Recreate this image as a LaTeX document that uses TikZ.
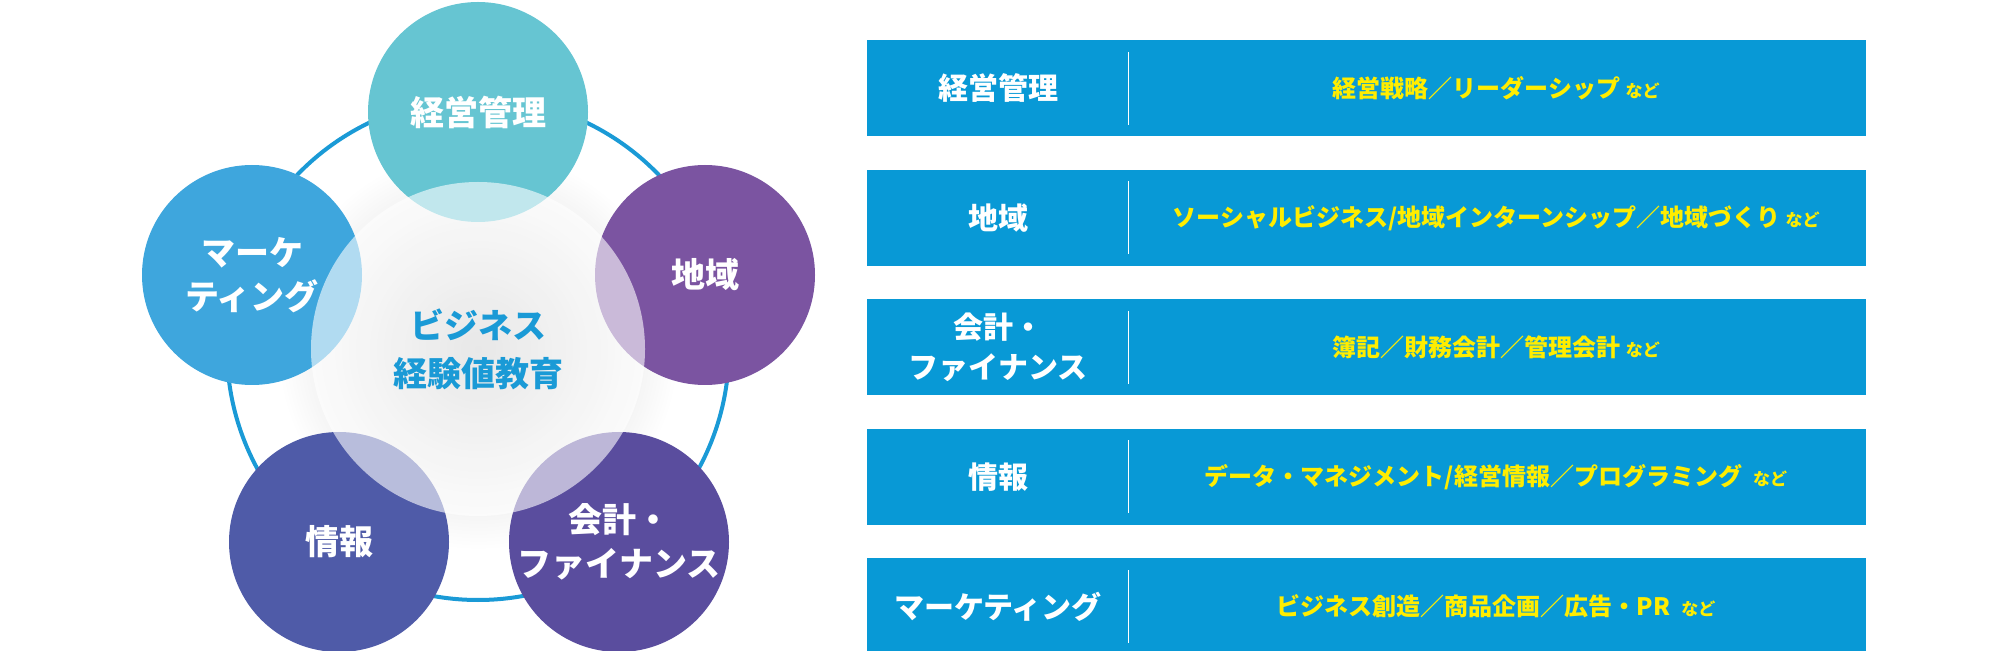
\documentclass[tikz,border=0pt]{standalone}
\usepackage{fontspec}
\setmainfont{Noto Sans CJK JP}
\definecolor{mgmtc}{HTML}{66C5D2}
\definecolor{mktc}{HTML}{3EA6DD}
\definecolor{areac}{HTML}{7B54A1}
\definecolor{infoc}{HTML}{4F5BA8}
\definecolor{accc}{HTML}{5A4D9E}
\definecolor{ringc}{HTML}{1A9AD6}
\definecolor{barc}{HTML}{0899D6}
\definecolor{gold}{HTML}{FFED00}
\newcommand\hsl{/}
\newcommand\nado{{\fontsize{8.5}{10}\selectfont など}}
\tikzset{
  topic/.style={circle,minimum size=110pt,inner sep=0pt,text=white,font=\fontsize{17}{22}\selectfont\bfseries,align=center},
  bar/.style={fill=barc,minimum width=499.5pt,minimum height=48pt,inner sep=0pt,anchor=north west},
  barhead/.style={text=white,font=\fontsize{15}{20}\selectfont\bfseries,align=center},
  bartext/.style={text=gold,font=\fontsize{12}{14}\selectfont\bfseries}
}
\begin{document}
\begin{tikzpicture}[x=0.5pt,y=-0.5pt]
    \useasboundingbox (0,0) rectangle (2001,651);
    % ring and shadow
    \draw[ringc,line width=2pt] (478,349) circle[radius=125.5pt];
    \shade[inner color=black!45,outer color=white,opacity=0.5] (478,349) circle[radius=100pt];
    % topics
    \node[topic,fill=mgmtc] (mgmt) at (478,112) {経営管理};
    \node[topic,fill=mktc] (mkt) at (252,275) {マーケ\\ティング};
    \node[topic,fill=areac] (area) at (705,275) {地域};
    \node[topic,fill=infoc] (info) at (339,542) {情報};
    \node[topic,fill=accc] (acc) at (619,542) {会計・\\ファイナンス};
    % centre
    \node[circle,fill=white,fill opacity=0.6,text opacity=1,minimum size=167pt,inner sep=0pt,text=ringc,
          font=\fontsize{17}{24}\selectfont\bfseries,align=center] (core) at (478,349) {ビジネス\\経験値教育};
    % bars
    \foreach \i/\head/\body in {0/経営管理/経営戦略／リーダーシップ,
        1/地域/ソーシャルビジネス\hsl 地域インターンシップ／地域づくり,
        2/会計・\\ファイナンス/簿記／財務会計／管理会計,
        3/情報/データ・マネジメント\hsl 経営情報／プログラミング\ ,
        4/マーケティング/ビジネス創造／商品企画／広告・PR\ }{
      \node[bar] (bar\i) at (867,{40+129.5*\i}) {};
      \node[barhead] (head\i) at ([xshift=65.5pt]bar\i.west) {\head};
      \draw[white,line width=0.5pt] ([xshift=130.5pt,yshift=-6pt]bar\i.north west) coordinate (d\i)
        -- ([xshift=130.5pt,yshift=6pt]bar\i.south west);
      \node[bartext] (body\i) at ([xshift=314.5pt]bar\i.west) {\body\ \nado};
    }
\end{tikzpicture}
\end{document}
